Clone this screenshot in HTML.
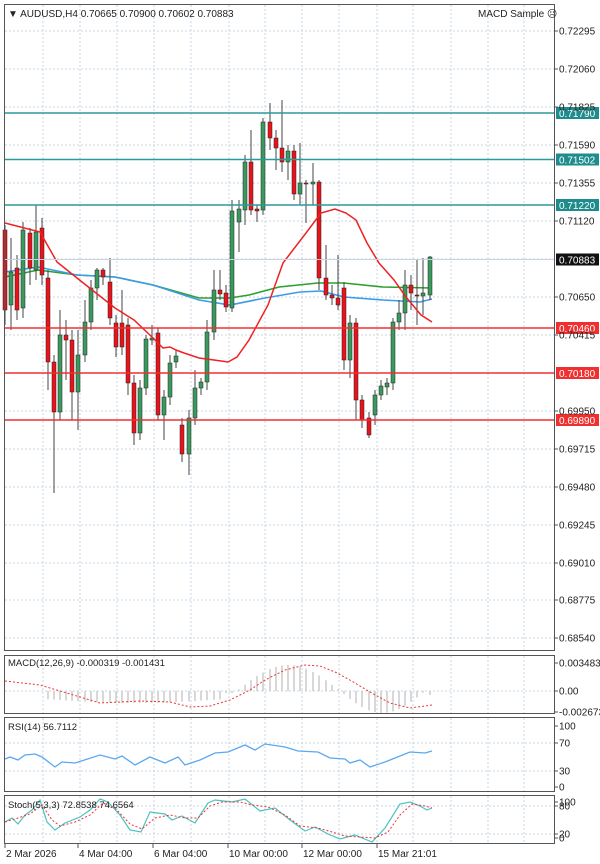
<!DOCTYPE html>
<html><head><meta charset="utf-8"><style>
html,body{margin:0;padding:0;background:#fff;}
svg{display:block;font-family:"Liberation Sans",sans-serif;}
</style></head><body>
<svg id="s" width="600" height="864" viewBox="0 0 600 864" xmlns="http://www.w3.org/2000/svg">
<rect x="0" y="0" width="600" height="864" fill="#fff"/>
<g id="grid"></g>
<g id="mas"></g>
<g id="cnd"></g>
<g id="lv"></g>
<g id="ind"></g>
<g stroke="#555" fill="none" stroke-width="1">
<rect x="4.5" y="4.5" width="550" height="646"/>
<rect x="4.5" y="655.5" width="550" height="58"/>
<rect x="4.5" y="717.5" width="550" height="74"/>
<rect x="4.5" y="795.5" width="550" height="48"/>
</g>
<g font-size="10" fill="#222">
<text x="8" y="17">▼ AUDUSD,H4  0.70665 0.70900 0.70602 0.70883</text>
<text x="478" y="17">MACD Sample ☹</text>
<text x="8" y="666" font-size="9.5">MACD(12,26,9) -0.000319 -0.001431</text>
<text x="8" y="730" font-size="9.5">RSI(14) 56.7112</text>
<text x="8" y="808" font-size="9.5">Stoch(5,3,3) 72.8538 74.6564</text>
</g>
<g id="ax" font-size="10" fill="#222"></g>
</svg>
<script>
const NS="http://www.w3.org/2000/svg";
function el(p,t,a,txt){const e=document.createElementNS(NS,t);for(const k in a)e.setAttribute(k,a[k]);if(txt!==undefined)e.textContent=txt;document.getElementById(p).appendChild(e);return e;}
// grid
const gy=[31,69,107,145,183,221,259,297,335,373,411,449,487,525,563,600,638];
gy.forEach(y=>el("grid","line",{x1:5,x2:554,y1:y,y2:y,stroke:"#c8d4e4","stroke-dasharray":"2,2"}));
const gx=[43,80,117,154,191,229,265,302,339,377,413,451,488,524];
gx.forEach(x=>{[[5,650],[656,713],[718,791],[796,843]].forEach(r=>el("grid","line",{x1:x,x2:x,y1:r[0],y2:r[1],stroke:"#c8d4e4","stroke-dasharray":"2,2"}));});
[743,771].forEach(y=>el("grid","line",{x1:5,x2:554,y1:y,y2:y,stroke:"#c8d4e4","stroke-dasharray":"2,2"}));
[806,834].forEach(y=>el("grid","line",{x1:5,x2:554,y1:y,y2:y,stroke:"#c8d4e4","stroke-dasharray":"2,2"}));
el("grid","line",{x1:5,x2:554,y1:691,y2:691,stroke:"#c8d4e4","stroke-dasharray":"2,2"});
// axis labels
const al=[[31,"0.72295"],[69,"0.72060"],[107,"0.71825"],[145,"0.71590"],[183,"0.71355"],[221,"0.71120"],[297,"0.70650"],[335,"0.70415"],[411,"0.69950"],[449,"0.69715"],[487,"0.69480"],[525,"0.69245"],[563,"0.69010"],[600,"0.68775"],[638,"0.68540"],
[663,"0.003483"],[691,"0.00"],[712,"-0.002673"],[726,"100"],[743,"70"],[771,"30"],[787,"0"],[802,"100"],[806,"80"],[834,"20"],[838,"0"]];
al.forEach(a=>{el("ax","line",{x1:555,x2:558,y1:a[0],y2:a[0],stroke:"#555"});el("ax","text",{x:559,y:a[0]+3.5},a[1]);});
[[5,"2 Mar 2026"],[78,"4 Mar 04:00"],[153,"6 Mar 04:00"],[228,"10 Mar 00:00"],[302,"12 Mar 00:00"],[377,"15 Mar 21:01"]].forEach(d=>{el("ax","line",{x1:d[0],x2:d[0],y1:844,y2:848,stroke:"#555"});el("ax","text",{x:d[0]+1,y:857},d[1]);});
// MAs
function pl(g,pts,c,w,dash){const a={points:pts.map(p=>p.join(",")).join(" "),fill:"none",stroke:c,"stroke-width":w};if(dash)a["stroke-dasharray"]=dash;el(g,"polyline",a);}
pl("mas",[[5,277],[38,270],[77,275],[115,277],[153,285],[199,298],[230,298],[249,295],[279,287],[318,283],[344,283],[383,287],[432,288]],"#2ca02c",1.6);
pl("mas",[[5,272],[38,267],[77,275],[115,277],[153,285],[199,300],[230,305],[265,298],[300,292],[321,291],[344,297],[383,300],[420,302],[432,299]],"#3d9be9",1.6);
// candles [x,o,c,h,l]
const C=[[5,230,310,225,325],[11,305,272,238,330],[17,268,310,255,320],[23,308,230,222,318],[30,233,268,228,285],[36,270,232,205,280],[42,228,275,218,285],[48,278,362,270,390],[54,362,412,355,493],[60,412,335,310,420],[66,335,340,320,380],[72,340,392,330,420],[78,392,355,330,430],[85,355,322,300,362],[91,322,288,280,330],[97,288,270,268,300],[103,270,277,268,285],[110,282,318,258,325],[116,323,347,315,357],[122,323,347,290,355],[128,325,383,318,395],[134,383,433,375,445],[140,433,388,380,440],[146,388,339,335,395],[152,340,338,325,345],[158,333,415,328,420],[164,415,397,390,440],[170,397,363,355,405],[176,362,356,350,368],[182,425,454,418,462],[189,454,418,410,475],[195,418,388,370,425],[201,388,382,378,395],[207,382,332,320,390],[214,332,290,270,340],[220,290,294,270,300],[226,293,307,285,312],[232,308,211,200,312],[239,222,209,200,252],[245,210,162,155,225],[251,162,210,130,215],[257,209,211,205,222],[263,210,122,118,215],[270,122,138,103,150],[276,138,148,130,170],[282,148,162,100,172],[288,162,151,145,180],[294,151,194,145,200],[300,194,183,143,205],[306,183,184,180,223],[313,184,182,163,205],[319,182,278,180,290],[326,278,295,245,300],[332,295,298,285,305],[338,298,305,255,310],[344,288,360,282,370],[350,360,323,315,378],[356,323,400,318,420],[362,400,420,395,428],[369,418,435,412,438],[375,415,395,390,425],[381,395,386,380,400],[387,387,383,378,395],[393,383,322,318,390],[399,322,313,300,330],[405,313,285,270,330],[411,285,293,275,310],[417,295,295,260,325],[423,296,293,258,315],[430,295,257,256,300]];
C.forEach(c=>{const[x,o,cl,h,l]=c;el("cnd","line",{x1:x,x2:x,y1:h,y2:l,stroke:"#444","stroke-width":1});const up=cl<o;const t=Math.min(o,cl),b=Math.max(o,cl);el("cnd","rect",{x:x-2,y:t,width:4,height:Math.max(1,b-t),fill:up?"#3a9a5e":"#e8131b",stroke:"#222","stroke-width":0.5});});
// red MA on top
pl("cnd",[[5,223],[40,232],[57,262],[77,278],[96,293],[115,308],[134,320],[153,338],[163,348],[170,347],[176,350],[184,353],[199,358],[214,360],[228,362],[237,357],[249,340],[268,305],[283,263],[306,233],[321,213],[335,209],[346,213],[356,220],[367,243],[379,263],[394,280],[406,297],[421,315],[432,322]],"#ee2222",1.5);
// levels
function lvl(y,c,txt,bg){el("lv","line",{x1:5,x2:555,y1:y,y2:y,stroke:c,"stroke-width":1.6});el("lv","rect",{x:556,y:y-6,width:43,height:12,fill:bg});el("lv","text",{x:559,y:y+4,fill:"#fff","font-size":10},txt);}
lvl(113,"#2a9a9a","0.71790","#1e8c8c");lvl(159.5,"#2a9a9a","0.71502","#1e8c8c");lvl(205,"#2a9a9a","0.71220","#1e8c8c");
el("lv","line",{x1:5,x2:555,y1:259.5,y2:259.5,stroke:"#c8d4e4"});
el("lv","rect",{x:556,y:253.5,width:43,height:12,fill:"#111"});el("lv","text",{x:559,y:263.5,fill:"#fff","font-size":10},"0.70883");
lvl(328,"#f03030","0.70460","#f03030");lvl(373,"#f03030","0.70180","#f03030");lvl(420,"#f03030","0.69890","#f03030");
// MACD hist
C.forEach((c,i)=>{const x=c[0];let v;
if(x<45)v=0;else if(x<225)v=8+4*Math.sin((x-45)/180*Math.PI);else if(x<237)v=2;else if(x<340)v=-26*Math.sin((x-237)/103*Math.PI);else if(x<425)v=22*Math.sin((x-340)/85*Math.PI);else v=4;
el("ind","line",{x1:x,x2:x,y1:691,y2:691+v,stroke:"#c8c8c8","stroke-width":1.4});});
pl("ind",[[5,681],[40,685],[70,694],[100,703],[140,701],[170,702],[190,707],[210,706],[230,700],[250,690],[265,680],[285,670],[305,665],[320,666],[335,672],[350,680],[370,692],[390,703],[410,708],[425,706],[432,705]],"#ee3333",1,"2,2");
// RSI
pl("ind",[[5,759],[10,757],[18,760],[25,755],[35,754],[42,757],[55,767],[62,762],[75,763],[100,755],[115,759],[122,756],[135,765],[150,757],[165,763],[178,757],[185,765],[200,760],[215,753],[228,752],[245,745],[255,750],[265,744],[285,747],[298,751],[318,752],[330,758],[345,759],[350,763],[360,760],[370,767],[385,762],[395,758],[410,752],[425,753],[432,751]],"#5aa8f0",1.3);
// Stoch
pl("ind",[[5,822],[12,818],[18,824],[25,815],[32,810],[40,800],[47,822],[55,830],[65,823],[80,817],[90,810],[100,799],[108,802],[120,815],[130,830],[141,832],[150,812],[165,814],[172,820],[182,816],[195,823],[208,803],[215,800],[232,802],[245,799],[260,811],[275,808],[290,820],[305,831],[315,827],[328,834],[340,839],[355,835],[372,842],[385,828],[400,804],[410,802],[420,806],[427,810],[432,808]],"#4cc2c0",1.2);
pl("ind",[[5,822],[18,818],[30,814],[42,805],[52,820],[60,826],[75,822],[90,815],[103,803],[115,808],[130,824],[142,829],[155,818],[170,815],[185,818],[198,818],[210,806],[222,802],[240,802],[252,805],[268,807],[285,815],[300,826],[318,828],[332,832],[345,836],[360,837],[375,838],[388,832],[400,815],[412,804],[425,806],[432,808]],"#ee3333",1,"2,2");
</script>
</body></html>
